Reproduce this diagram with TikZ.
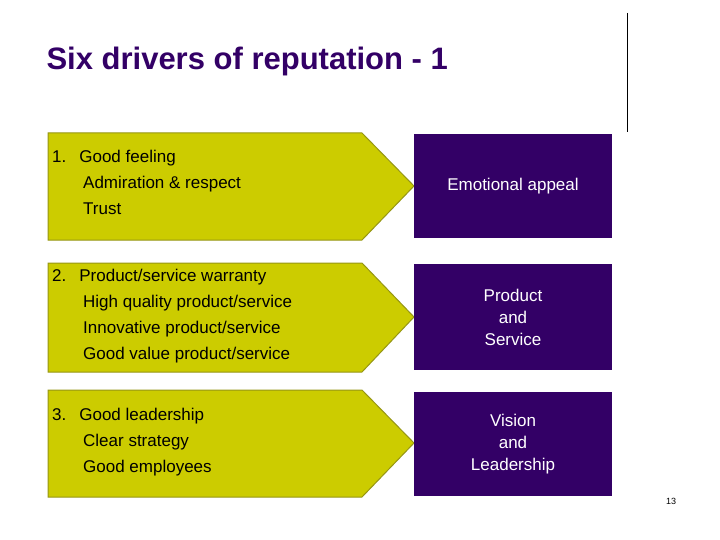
\documentclass[tikz,border=0pt]{standalone}
\usepackage{fontspec}
\setmainfont{Liberation Sans}
\usetikzlibrary{positioning}
\definecolor{olive}{RGB}{204,204,0}
\definecolor{oliveline}{RGB}{150,150,20}
\definecolor{grape}{RGB}{51,0,102}
\definecolor{teal}{RGB}{102,153,153}
\definecolor{lav}{RGB}{210,210,228}
\tikzset{
  driver/.style={fill=olive, draw=oliveline, line width=1pt},
  appeal/.style={fill=grape, text=white, minimum width=198pt, inner sep=0pt,
    align=center, font=\fontsize{17}{22}\selectfont},
  items/.style={anchor=north west, align=left, inner sep=0pt,
    font=\fontsize{17}{26}\selectfont},
  dot/.style={radius=5pt}
}
\begin{document}
\begin{tikzpicture}[x=1pt, y=-1pt]
    \useasboundingbox (0,0) rectangle (720,540);
    % Title
    \node[anchor=west, font=\fontsize{31}{36}\selectfont\bfseries, text=grape] (title) at (43,61) {Six drivers of reputation - 1};
    % Decoration dots
    \draw[line width=0.8pt] (627,13) -- (627,132);
    \foreach \row [count=\j from 0] in {{P,P,P,N,N},{P,P,P,T,N},{P,P,T,T,Y},{P,T,T,Y,N},{T,T,Y,Y,L},{T,Y,Y,L,N},{Y,Y,L,L,N},{N,L,N,L,N}} {
        \foreach \c [count=\i from 0] in \row {
            \ifx\c P \fill[grape] (647+13*\i,16+13.2*\j) circle[dot]; \fi
            \ifx\c T \fill[teal] (647+13*\i,16+13.2*\j) circle[dot]; \fi
            \ifx\c Y \fill[olive] (647+13*\i,16+13.2*\j) circle[dot]; \fi
            \ifx\c L \fill[lav] (647+13*\i,16+13.2*\j) circle[dot]; \fi
        }
    }
    % Driver arrows
    \draw[driver] (48,133) -- (362,133) -- (414,186) -- (362,240) -- (48,240) -- cycle;
    \draw[driver] (48,263) -- (362,263) -- (414,317) -- (362,372) -- (48,372) -- cycle;
    \draw[driver] (48,390) -- (362,390) -- (414,443) -- (362,497) -- (48,497) -- cycle;
    \node[items] (good) at (52,150) {1.\hspace{13pt}Good feeling\\\hspace{31pt}Admiration \& respect\\\hspace{31pt}Trust};
    \node[items] (product) at (52,269) {2.\hspace{13pt}Product/service warranty\\\hspace{31pt}High quality product/service\\\hspace{31pt}Innovative product/service\\\hspace{31pt}Good value product/service};
    \node[items] (leader) at (52,408) {3.\hspace{13pt}Good leadership\\\hspace{31pt}Clear strategy\\\hspace{31pt}Good employees};
    % Appeal boxes
    \node[appeal, minimum height=104pt] (emotion) at (513,186) {Emotional appeal};
    \node[appeal, minimum height=106pt] (service) at (513,317) {Product\\and\\Service};
    \node[appeal, minimum height=104pt] (vision) at (513,444) {Vision\\and\\Leadership};
    % Page number
    \node[font=\fontsize{9}{10}\selectfont] (page) at (671,501) {13};
\end{tikzpicture}
\end{document}
